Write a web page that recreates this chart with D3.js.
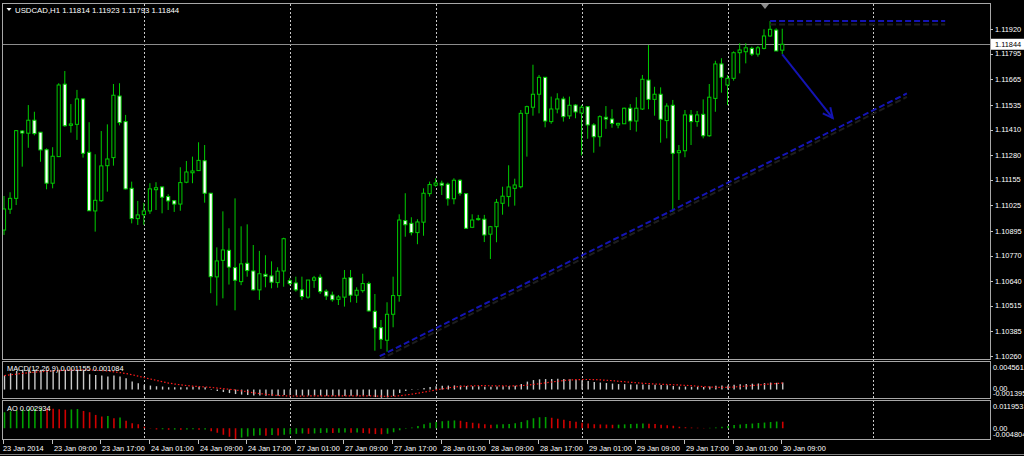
<!DOCTYPE html>
<html><head><meta charset="utf-8">
<script src="https://cdnjs.cloudflare.com/ajax/libs/d3/7.8.5/d3.min.js"></script>
<style>
html,body{margin:0;padding:0;background:#000;overflow:hidden}
svg{display:block}
text{font-family:"Liberation Sans",Arial,sans-serif;font-size:7.4px;fill:#fff}
</style>
</head><body><svg id="c" width="1024" height="456"></svg>
<script>
// ---------------- DATA ----------------
const title = "USDCAD,H1  1.11814 1.11923 1.11793 1.11844";
const open = [
1.10900,1.11006,1.11061,1.11403,1.11392,1.11458,1.11397,1.11308,1.11138,1.11273,
1.11641,1.11432,1.11437,1.11566,1.11295,1.10997,1.11049,1.11227,1.11268,1.11581,
1.11451,1.11112,1.10958,1.10978,1.10997,1.11105,1.11119,1.11070,1.11049,1.11032,
1.11143,1.11191,1.11202,1.11252,1.11087,1.10662,1.10746,1.10797,1.10709,1.10638,
1.10731,1.10692,1.10596,1.10675,1.10667,1.10633,1.10692,1.10643,1.10631,1.10596,
1.10559,1.10645,1.10660,1.10589,1.10570,1.10548,1.10559,1.10658,1.10569,1.10592,
1.10628,1.10487,1.10404,1.10340,1.10472,1.10567,1.10948,1.10934,1.10887,1.10940,
1.11085,1.11128,1.11138,1.11133,1.11059,1.11153,1.11085,1.10914,1.10953,1.10955,
1.10879,1.10917,1.11036,1.11070,1.11112,1.11120,1.11493,1.11524,1.11590,1.11676,
1.11451,1.11515,1.11566,1.11480,1.11535,1.11495,1.11527,1.11434,1.11374,1.11473,
1.11464,1.11434,1.11440,1.11519,1.11454,1.11515,1.11662,1.11564,1.11590,1.11456,
1.11534,1.11293,1.11303,1.11485,1.11451,1.11488,1.11379,1.11569,1.11744,1.11637,
1.11671,1.11801,1.11806,1.11823,1.11794,1.11823,1.11886,1.11916,1.11814];
const high = [
1.11073,1.11092,1.11408,1.11408,1.11535,1.11501,1.11398,1.11315,1.11321,1.11646,
1.11708,1.11540,1.11612,1.11571,1.11448,1.11285,1.11403,1.11437,1.11642,1.11646,
1.11485,1.11146,1.11048,1.11038,1.11138,1.11143,1.11120,1.11082,1.11053,1.11219,
1.11251,1.11273,1.11346,1.11332,1.11088,1.10812,1.10995,1.10909,1.11061,1.10919,
1.10929,1.10824,1.10794,1.10772,1.10741,1.10711,1.10861,1.10657,1.10663,1.10663,
1.10646,1.10667,1.10675,1.10599,1.10587,1.10570,1.10697,1.10697,1.10609,1.10678,
1.10638,1.10575,1.10443,1.10533,1.10663,1.10980,1.11087,1.10965,1.10955,1.11112,
1.11146,1.11163,1.11151,1.11141,1.11163,1.11158,1.11087,1.10980,1.10977,1.10977,
1.10921,1.11058,1.11120,1.11229,1.11161,1.11510,1.11532,1.11740,1.11688,1.11678,
1.11578,1.11595,1.11578,1.11578,1.11540,1.11535,1.11527,1.11443,1.11483,1.11530,
1.11514,1.11445,1.11522,1.11540,1.11575,1.11688,1.11840,1.11628,1.11625,1.11544,
1.11561,1.11332,1.11510,1.11510,1.11505,1.11564,1.11642,1.11760,1.11773,1.11688,
1.11808,1.11849,1.11849,1.11832,1.11835,1.11920,1.11962,1.11925,1.11923];
const low = [
1.10875,1.10982,1.11027,1.11222,1.11318,1.11381,1.11247,1.11107,1.11112,1.11271,
1.11425,1.11395,1.11358,1.11268,1.10997,1.10892,1.11044,1.11095,1.11227,1.11432,
1.11106,1.10934,1.10926,1.10926,1.10982,1.11002,1.10985,1.11002,1.10992,1.10998,
1.11138,1.11138,1.11202,1.11039,1.10579,1.10516,1.10553,1.10623,1.10492,1.10620,
1.10663,1.10593,1.10545,1.10609,1.10604,1.10607,1.10612,1.10619,1.10587,1.10545,
1.10551,1.10606,1.10575,1.10545,1.10536,1.10519,1.10511,1.10533,1.10530,1.10582,
1.10486,1.10287,1.10296,1.10282,1.10406,1.10536,1.10866,1.10873,1.10828,1.10871,
1.11070,1.11120,1.11078,1.11024,1.11031,1.11075,1.10907,1.10910,1.10948,1.10839,
1.10753,1.10838,1.10978,1.11019,1.11024,1.11112,1.11273,1.11481,1.11493,1.11422,
1.11440,1.11493,1.11451,1.11464,1.11468,1.11279,1.11364,1.11293,1.11324,1.11414,
1.11420,1.11417,1.11440,1.11408,1.11400,1.11510,1.11514,1.11481,1.11344,1.11366,
1.10993,1.11053,1.11270,1.11332,1.11425,1.11366,1.11374,1.11501,1.11598,1.11535,
1.11659,1.11696,1.11747,1.11784,1.11781,1.11818,1.11882,1.11810,1.11793];
const close = [
1.11007,1.11061,1.11405,1.11393,1.11458,1.11390,1.11307,1.11138,1.11275,1.11637,
1.11430,1.11439,1.11566,1.11290,1.10998,1.11051,1.11226,1.11261,1.11585,1.11446,
1.11109,1.10958,1.10977,1.10997,1.11109,1.11115,1.11067,1.11048,1.11032,1.11141,
1.11195,1.11200,1.11254,1.11087,1.10663,1.10743,1.10799,1.10712,1.10645,1.10728,
1.10694,1.10596,1.10678,1.10665,1.10635,1.10691,1.10856,1.10628,1.10596,1.10562,
1.10646,1.10657,1.10587,1.10565,1.10546,1.10560,1.10655,1.10569,1.10594,1.10628,
1.10489,1.10403,1.10345,1.10472,1.10567,1.10951,1.10927,1.10887,1.10941,1.11087,
1.11131,1.11139,1.11128,1.11059,1.11153,1.11087,1.10909,1.10951,1.10958,1.10875,
1.10917,1.11041,1.11072,1.11119,1.11129,1.11493,1.11527,1.11590,1.11676,1.11454,
1.11515,1.11566,1.11476,1.11534,1.11500,1.11524,1.11434,1.11374,1.11476,1.11464,
1.11442,1.11442,1.11519,1.11454,1.11519,1.11666,1.11564,1.11590,1.11463,1.11530,
1.11290,1.11303,1.11485,1.11451,1.11485,1.11379,1.11575,1.11744,1.11676,1.11671,
1.11801,1.11815,1.11826,1.11794,1.11826,1.11886,1.11920,1.11810,1.11844];

// MACD(12,26,9) main and signal, in thousandths
const macdMain = [
2.32,2.70,3.09,3.19,3.26,3.26,3.26,3.14,3.14,3.26,
3.26,3.26,3.26,3.14,2.53,2.43,2.32,2.15,2.32,2.15,
1.87,1.32,1.04,0.78,0.66,0.55,0.50,0.38,0.38,0.38,
0.38,0.45,0.45,0.38,0.08,-0.25,-0.41,-0.58,-0.74,-0.83,
-0.91,-0.99,-0.99,-1.04,-1.04,-1.04,-0.91,-0.91,-0.99,-0.99,
-0.99,-0.99,-0.99,-1.04,-1.04,-1.08,-1.08,-1.04,-1.04,-1.04,
-1.08,-1.24,-1.36,-1.29,-1.08,-0.58,-0.25,-0.08,0.05,0.25,
0.41,0.55,0.63,0.66,0.69,0.66,0.58,0.55,0.53,0.46,
0.45,0.50,0.53,0.58,0.63,0.91,1.32,1.57,1.70,1.74,
1.74,1.77,1.74,1.69,1.62,1.54,1.41,1.24,1.16,1.08,
0.99,0.91,0.91,0.83,0.83,0.83,0.79,0.79,0.74,0.71,
0.58,0.50,0.50,0.46,0.46,0.41,0.50,0.63,0.69,0.69,
0.79,0.88,0.94,0.98,1.01,1.08,1.16,1.12,1.155];
const macdSignal = [
2.32,2.45,2.56,2.68,2.78,2.88,2.96,3.03,3.09,3.14,
3.19,3.23,3.24,3.26,3.24,3.21,3.14,3.06,2.94,2.81,
2.65,2.45,2.22,1.98,1.75,1.52,1.29,1.08,0.91,0.78,
0.66,0.56,0.50,0.43,0.35,0.25,0.15,0.05,-0.07,-0.22,
-0.36,-0.53,-0.66,-0.79,-0.89,-0.98,-1.03,-1.06,-1.07,-1.07,
-1.06,-1.05,-1.04,-1.04,-1.03,-1.03,-1.03,-1.04,-1.04,-1.04,
-1.05,-1.07,-1.10,-1.12,-1.10,-1.02,-0.90,-0.76,-0.60,-0.42,
-0.24,-0.05,0.12,0.28,0.42,0.52,0.58,0.62,0.64,0.64,
0.63,0.62,0.60,0.59,0.60,0.65,0.74,0.85,0.98,1.12,
1.25,1.38,1.50,1.58,1.64,1.66,1.67,1.65,1.60,1.54,
1.47,1.38,1.29,1.20,1.12,1.04,0.98,0.92,0.88,0.84,
0.80,0.75,0.70,0.65,0.55,0.48,0.42,0.38,0.36,0.37,
0.42,0.50,0.58,0.67,0.76,0.85,0.93,1.01,1.084];
// Awesome Oscillator, in thousandths
const aoValues = [
7.15,7.60,8.05,8.36,8.63,8.85,9.07,8.94,8.72,8.49,
8.27,8.40,8.58,7.73,7.15,5.95,5.23,5.50,4.47,4.78,
3.35,2.24,1.79,0.67,-0.13,-0.54,-0.45,-0.67,-0.58,-0.72,
-0.58,-0.49,-0.63,-0.54,-1.34,-2.01,-2.91,-3.80,-4.80,-4.16,
-3.71,-3.35,-3.13,-3.35,-3.04,-3.22,-2.86,-2.68,-2.50,-2.32,
-2.50,-2.32,-2.15,-2.01,-2.15,-2.01,-1.88,-2.06,-1.92,-2.15,
-2.37,-2.59,-2.68,-2.46,-1.79,-0.89,-0.22,0.36,0.98,1.79,
2.46,2.82,3.13,3.35,3.49,3.35,2.82,2.46,2.15,1.79,
1.56,1.65,1.74,1.92,2.24,2.82,3.58,4.47,4.92,5.01,
4.69,4.25,3.80,3.26,2.91,2.46,2.10,1.79,1.70,1.65,
1.56,1.61,1.74,1.88,2.01,2.15,2.01,1.88,1.56,1.34,
1.12,0.67,0.45,0.31,0.22,0.13,0.18,0.31,0.67,1.03,
1.43,1.65,1.92,2.10,2.37,2.55,2.77,3.00,2.934];

const priceTicks = [1.11920,1.11795,1.11665,1.11535,1.11410,1.11280,1.11155,1.11025,1.10895,1.10770,1.10640,1.10515,1.10385,1.10260];
const lastPrice = 1.11844;
const timeLabels = ["23 Jan 2014","23 Jan 09:00","23 Jan 17:00","24 Jan 01:00","24 Jan 09:00","24 Jan 17:00","27 Jan 01:00","27 Jan 09:00","27 Jan 17:00","28 Jan 01:00","28 Jan 09:00","28 Jan 17:00","29 Jan 01:00","29 Jan 09:00","29 Jan 17:00","30 Jan 01:00","30 Jan 09:00"];
const timeLabelBars = [0,8,16,24,32,40,48,56,64,72,80,88,96,104,112,120,128];
const gridBars = [23,47,71,95,119,143];
const macdRange = [-1.395, 4.561];   // thousandths
const macdLabels = ["0.004561","0.00","-0.001395"];
const aoRange = [-4.804, 11.953];
const aoLabels = ["0.011953","0.00","-0.004804"];
const macdTitle = "MACD(12,26,9) 0.001155 0.001084";
const aoTitle = "AO 0.002934";
// drawn objects (bar index, price)
const trendLine = [{bar:61.8, price:1.10259},{bar:148.5, price:1.11594}];
const levelLine = [{bar:126, price:1.11962},{bar:154.8, price:1.11962}];
const arrowLine = [{bar:128, price:1.11792},{bar:136.3, price:1.11469}];

// ---------------- DRAW ----------------
const svg = d3.select("#c");
const frameCol = "#a8a8a8";
const green = "#00cc00";
const blue = "#1414b4";

const X = d3.scaleLinear().domain([0,128]).range([4, 782.24]);
const Y = d3.scaleLinear().domain([1.10260,1.11920]).range([356,29.3]);
const YM = d3.scaleLinear().domain(macdRange).range([398,362]);
const YA = d3.scaleLinear().domain(aoRange).range([439,401.5]);

svg.append("rect").attr("width",1024).attr("height",456).attr("fill","#000");

const defs = svg.append("defs");
defs.append("clipPath").attr("id","mainClip").append("rect").attr("x",3).attr("y",4).attr("width",987).attr("height",355);

// vertical dotted grid
svg.append("g").selectAll("line").data(gridBars).join("line")
  .attr("x1",d=>Math.round(X(d))+0.5).attr("x2",d=>Math.round(X(d))+0.5)
  .attr("y1",4).attr("y2",439)
  .attr("stroke","#c8c8c8").attr("stroke-width",1).attr("stroke-dasharray","2,2");

// current price line
svg.append("line").attr("x1",3).attr("x2",990).attr("y1",Math.round(Y(lastPrice))+0.5).attr("y2",Math.round(Y(lastPrice))+0.5)
  .attr("stroke","#8c8c8c").attr("stroke-width",1);

const main = svg.append("g").attr("clip-path","url(#mainClip)");

// candles
const idx = d3.range(open.length);
const cg = main.append("g");
cg.selectAll("line.wick").data(idx).join("line").attr("class","wick")
  .attr("x1",i=>X(i)).attr("x2",i=>X(i))
  .attr("y1",i=>Y(high[i])).attr("y2",i=>Y(low[i]))
  .attr("stroke",green).attr("stroke-width",1);
cg.selectAll("rect.body").data(idx).join("rect").attr("class","body")
  .attr("x",i=>X(i)-1.6).attr("width",3.2)
  .attr("y",i=>Y(Math.max(open[i],close[i])))
  .attr("height",i=>Math.max(1,Math.abs(Y(open[i])-Y(close[i]))))
  .attr("fill",i=>close[i]>=open[i]?"#000":"#fff")
  .attr("stroke",green).attr("stroke-width",1);

// drawn objects
function drawDashed(pts){
  const line = d3.line().x(d=>X(d.bar)).y(d=>Y(d.price));
  main.append("path").attr("d",line(pts)).attr("transform","translate(0,3.5)")
    .attr("fill","none").attr("stroke","#1e1e1e").attr("stroke-width",2).attr("stroke-dasharray","6,3");
  main.append("path").attr("d",line(pts))
    .attr("fill","none").attr("stroke",blue).attr("stroke-width",2).attr("stroke-dasharray","6,3");
}
drawDashed(trendLine);
drawDashed(levelLine);

// arrow
(function(){
  const x1=X(arrowLine[0].bar), y1=Y(arrowLine[0].price), x2=X(arrowLine[1].bar), y2=Y(arrowLine[1].price);
  const ang=Math.atan2(y2-y1,x2-x1), L=11, a=0.45;
  main.append("line").attr("x1",x1).attr("y1",y1).attr("x2",x2).attr("y2",y2)
    .attr("stroke",blue).attr("stroke-width",2);
  main.append("path")
    .attr("d",`M${x2-L*Math.cos(ang-a)},${y2-L*Math.sin(ang-a)}L${x2},${y2}L${x2-L*Math.cos(ang+a)},${y2-L*Math.sin(ang+a)}`)
    .attr("fill","none").attr("stroke",blue).attr("stroke-width",2);
})();

// MACD pane
const mg = svg.append("g");
mg.selectAll("line").data(idx).join("line")
  .attr("x1",i=>X(i)+0.5).attr("x2",i=>X(i)+0.5)
  .attr("y1",YM(0)).attr("y2",i=>YM(macdMain[i]))
  .attr("stroke","#c8c8c8").attr("stroke-width",1.4);
mg.append("path").attr("d",d3.line().x((d,i)=>X(i)+0.5).y(d=>YM(d))(macdSignal))
  .attr("fill","none").attr("stroke","#ff1a1a").attr("stroke-width",1.2).attr("stroke-dasharray","1.5,2");

// AO pane
const ag = svg.append("g");
ag.selectAll("line").data(idx).join("line")
  .attr("x1",i=>X(i)+0.5).attr("x2",i=>X(i)+0.5)
  .attr("y1",YA(0)).attr("y2",i=>YA(aoValues[i]))
  .attr("stroke",i=>(i===0||aoValues[i]>=aoValues[i-1])?"#00a000":"#d00000").attr("stroke-width",1.6);

// frames
function frame(y1,y2){
  svg.append("rect").attr("x",2.5).attr("y",y1).attr("width",988).attr("height",y2-y1)
    .attr("fill","none").attr("stroke",frameCol).attr("stroke-width",1);
}
frame(3.5,359.5); frame(361.5,398.5); frame(400.5,439.5);
svg.append("line").attr("x1",0).attr("x2",1024).attr("y1",454.5).attr("y2",454.5).attr("stroke","#808080");

// price axis labels
const pa = svg.append("g");
pa.selectAll("line").data(priceTicks).join("line")
  .attr("x1",990).attr("x2",993).attr("y1",d=>Math.round(Y(d))+0.5).attr("y2",d=>Math.round(Y(d))+0.5)
  .attr("stroke","#c0c0c0");
pa.selectAll("text").data(priceTicks).join("text")
  .attr("x",995).attr("y",d=>Y(d)).attr("dy","0.35em").text(d=>d.toFixed(5));

// current price tag
const ly = Y(lastPrice);
svg.append("rect").attr("x",991).attr("y",ly-5.5).attr("width",33).attr("height",11).attr("fill","#fff");
svg.append("text").attr("x",995).attr("y",ly).attr("dy","0.35em").style("fill","#000").text(lastPrice.toFixed(5));

// MACD / AO axis labels (the reference overlaps "0.00" with the minimum and cuts it at the edge)
const macdLy=[367,388.5,393];
macdLabels.forEach((t,k)=>svg.append("text").attr("x",993).attr("y",macdLy[k]).attr("dy","0.35em").text(t));
const aoLy=[406,428.5,434.5];
aoLabels.forEach((t,k)=>svg.append("text").attr("x",993).attr("y",aoLy[k]).attr("dy","0.35em").text(t));

// time axis
const ta = svg.append("g");
ta.selectAll("line").data(timeLabelBars).join("line")
  .attr("x1",d=>Math.round(X(d))-0.5).attr("x2",d=>Math.round(X(d))-0.5)
  .attr("y1",440).attr("y2",444).attr("stroke","#c0c0c0");
ta.selectAll("text").data(timeLabels).join("text")
  .attr("x",(d,k)=>k===0?3:Math.round(X(timeLabelBars[k]))+1).attr("y",448).attr("dy","0.35em").text(d=>d);

// titles
svg.append("path").attr("d","M6.5,8L11.5,8L9,11Z").attr("fill","#fff");
svg.append("text").attr("x",15).attr("y",9.8).attr("dy","0.35em").style("font-size","7.8px").text(title);
svg.append("text").attr("x",7).attr("y",368).attr("dy","0.35em").text(macdTitle);
svg.append("text").attr("x",7).attr("y",408).attr("dy","0.35em").text(aoTitle);

// chart shift marker
svg.append("path").attr("d","M761,4L769,4L765,9Z").attr("fill","#8c8c8c");
</script>
</body></html>
